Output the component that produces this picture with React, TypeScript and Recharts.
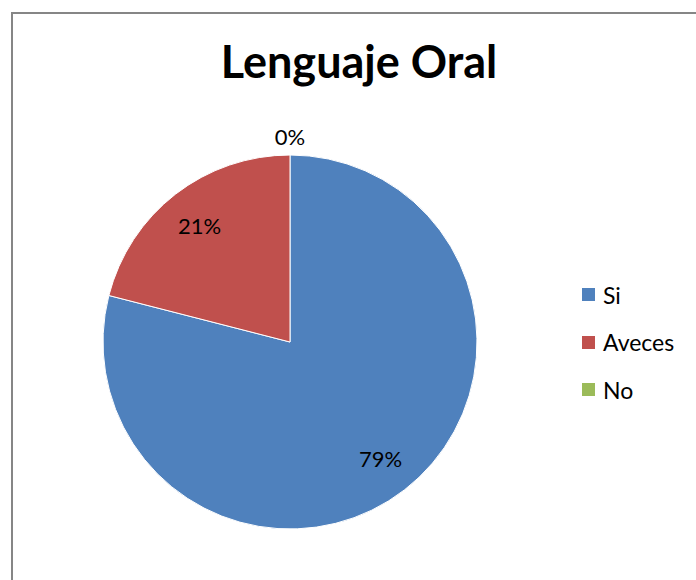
import { PieChart, Pie, Cell, Legend } from "recharts";

const categories = ["Si", "Aveces", "No"];
const values = [79, 21, 0];
const COLORS = ["#4F81BD", "#C0504D", "#9BBB59"];

const data = categories.map((name, i) => ({ name, value: values[i] }));

const RADIAN = Math.PI / 180;
const FONT = "Lato, 'Open Sans', sans-serif";

const renderLabel = (props: any) => {
  const { cx, cy, midAngle, outerRadius, value } = props;
  // los valores en 0 van fuera del círculo
  const r = value === 0 ? outerRadius + 19 : outerRadius * 0.79;
  const x = cx + r * Math.cos(-midAngle * RADIAN);
  const y = cy + r * Math.sin(-midAngle * RADIAN);
  return (
    <text x={x} y={y} fill="#000" textAnchor="middle" dominantBaseline="central" fontSize={22} fontFamily={FONT}>
      {`${value}%`}
    </text>
  );
};

const renderLegend = () => (
  <div style={{ fontFamily: FONT, fontSize: 23, color: "#000" }}>
    {data.map((d, i) => (
      <div key={d.name} style={{ display: "flex", alignItems: "center", height: 47.5 }}>
        <span style={{ width: 13, height: 13, background: COLORS[i], marginRight: 8, display: "inline-block" }} />
        <span>{d.name}</span>
      </div>
    ))}
  </div>
);

export default function App() {
  return (
    <div style={{ position: "absolute", left: 0, top: 0, width: 696, height: 580, overflow: "hidden", background: "#fff" }}>
      <div
        style={{
          position: "absolute",
          left: 11,
          top: 12,
          width: 720,
          height: 620,
          border: "2px solid #868686",
          boxSizing: "border-box",
        }}
      />
      <div
        style={{
          position: "absolute",
          left: 0,
          top: 34,
          width: 718,
          textAlign: "center",
          fontFamily: FONT,
          fontWeight: 700,
          fontSize: 45,
          color: "#000",
          lineHeight: "54px",
        }}
      >
        Lenguaje Oral
      </div>
      <PieChart
        width={696}
        height={580}
        margin={{ top: 0, right: 0, bottom: 0, left: 0 }}
        style={{ position: "absolute", left: 0, top: 0 }}
      >
        <Pie
          data={data}
          dataKey="value"
          nameKey="name"
          cx={290}
          cy={342}
          outerRadius={187}
          startAngle={90}
          endAngle={-270}
          stroke="#fff"
          strokeWidth={1}
          label={renderLabel}
          labelLine={false}
          isAnimationActive={false}
        >
          {data.map((d, i) => (
            <Cell key={d.name} fill={COLORS[i]} />
          ))}
        </Pie>
        <Legend
          content={renderLegend}
          layout="vertical"
          wrapperStyle={{ position: "absolute", left: 582, top: 271, width: 114 }}
        />
      </PieChart>
    </div>
  );
}
